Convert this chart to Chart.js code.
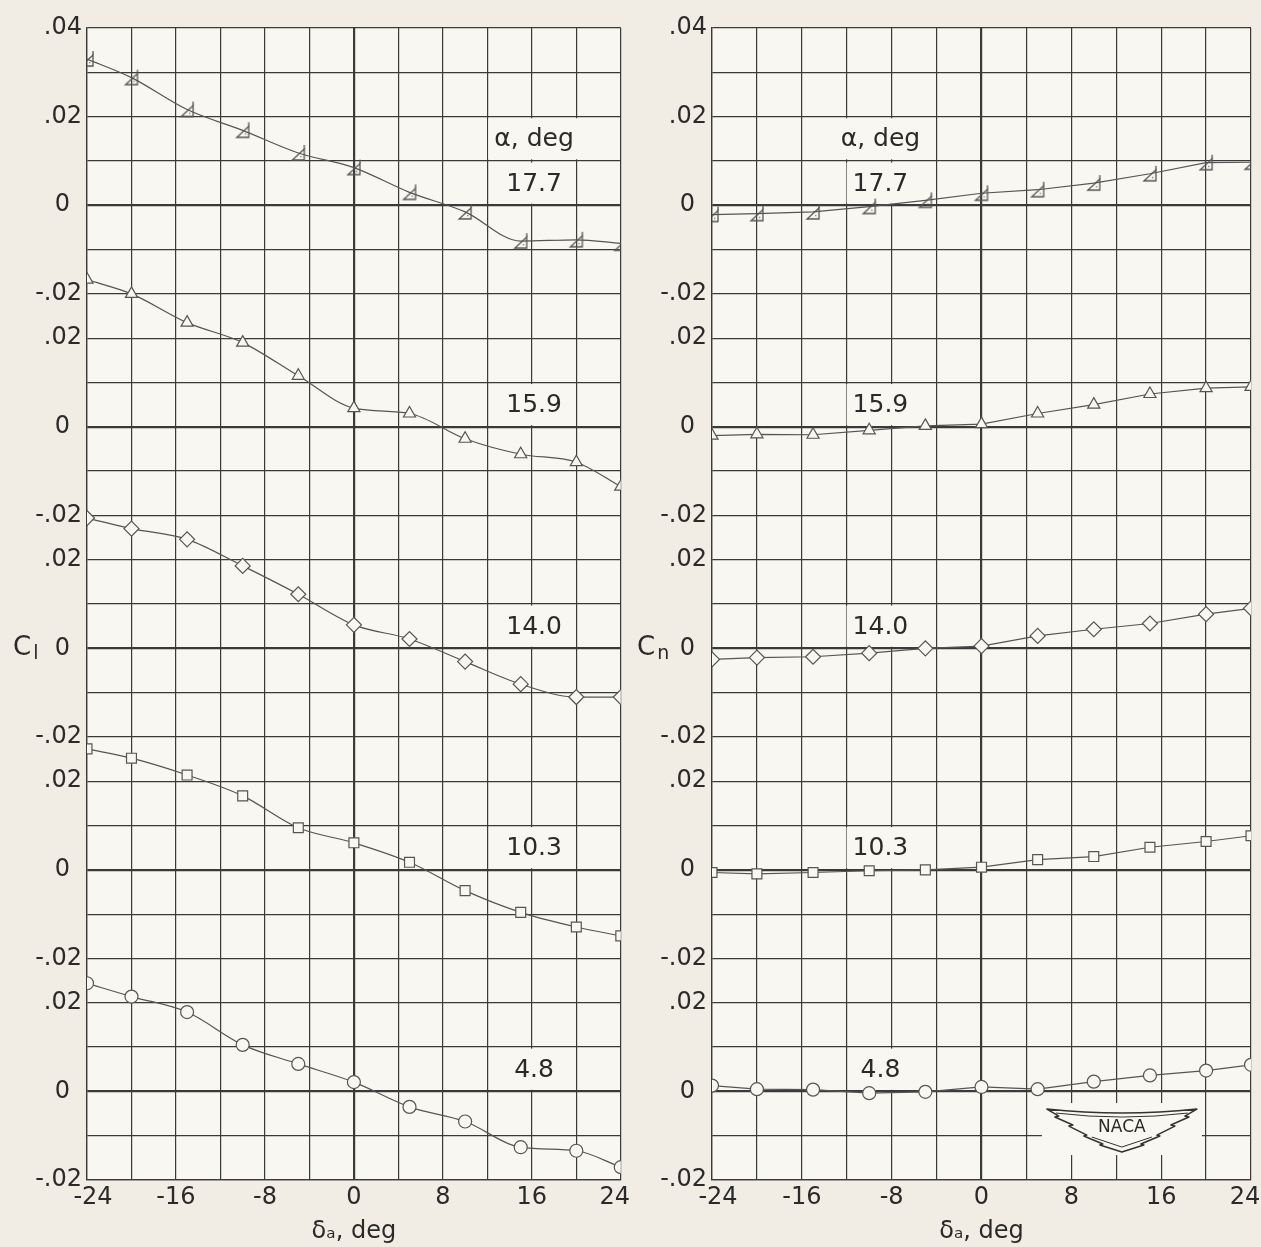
<!DOCTYPE html>
<html><head><meta charset="utf-8">
<script src="https://cdn.jsdelivr.net/npm/chart.js@4.4.1/dist/chart.umd.min.js"></script>
<style>
html,body{margin:0;padding:0;background:#f2ede4;width:1261px;height:1247px;overflow:hidden;}
canvas{position:absolute;top:0;}
#cl{left:0}
#cn{left:630px}
</style></head><body>
<canvas id="cl" width="630" height="1247"></canvas>
<canvas id="cn" width="631" height="1247"></canvas>
<script>
// ---------- data ----------
const deltaDeg = [-24, -20, -15, -10, -5, 0, 5, 10, 15, 20, 24];
const alphaLabels = ['17.7', '15.9', '14.0', '10.3', '4.8'];

const cl_17_7 = [0.0330, 0.0288, 0.0216, 0.0169, 0.0118, 0.0085, 0.0029, -0.0015, -0.0081, -0.0078, -0.0086];
const cl_15_9 = [0.0332, 0.0300, 0.0235, 0.0190, 0.0115, 0.0042, 0.0030, -0.0027, -0.0062, -0.0080, -0.0135];
const cl_14_0 = [0.0294, 0.0270, 0.0246, 0.0186, 0.0122, 0.0053, 0.0021, -0.0030, -0.0081, -0.0110, -0.0110];
const cl_10_3 = [0.0273, 0.0252, 0.0214, 0.0167, 0.0095, 0.0061, 0.0017, -0.0047, -0.0096, -0.0129, -0.0149];
const cl_4_8  = [0.0244, 0.0214, 0.0179, 0.0105, 0.0062, 0.0021, -0.0035, -0.0068, -0.0126, -0.0134, -0.0171];

const cn_17_7 = [-0.0021, -0.0019, -0.0015, -0.0003, 0.0011, 0.0027, 0.0035, 0.0050, 0.0071, 0.0096, 0.0097];
const cn_15_9 = [-0.0020, -0.0017, -0.0018, -0.0008, 0.0002, 0.0006, 0.0030, 0.0050, 0.0074, 0.0087, 0.0090];
const cn_14_0 = [-0.0025, -0.0021, -0.0019, -0.0011, 0.0000, 0.0005, 0.0028, 0.0043, 0.0056, 0.0077, 0.0090];
const cn_10_3 = [-0.0006, -0.0009, -0.0006, -0.0002, 0.0000, 0.0006, 0.0023, 0.0030, 0.0051, 0.0064, 0.0077];
const cn_4_8  = [0.0013, 0.0005, 0.0004, -0.0004, -0.0001, 0.0010, 0.0005, 0.0022, 0.0036, 0.0047, 0.0060];

// y tick labels, top to bottom, one per 0.01 grid line
const yTickLabels = ['.04','','.02','','0','','-.02',
                     '.02','','0','','-.02',
                     '.02','','0','','-.02',
                     '.02','','0','','-.02',
                     '.02','','0','','-.02'];
const xTickValues = [-24, -16, -8, 0, 8, 16, 24];

// ---------- layout / style ----------
const PANEL_STEP = 0.05;
const Y_TOP = 0.04, Y_BOTTOM = -0.22;
const FONT = '"DejaVu Sans", sans-serif';
const INK = '#2a2a2a';
const GRID = '#3a3a3a';
const LINE = '#555';
const PLOT_BG = '#f9f7f1';

function makeFlagTriangle(){
  const c = document.createElement('canvas'); c.width = 18; c.height = 22;
  const g = c.getContext('2d'); g.strokeStyle = '#555'; g.lineWidth = 1.3;
  g.beginPath(); g.moveTo(3,18); g.lineTo(15,18); g.lineTo(15,7); g.closePath(); g.stroke();
  g.beginPath(); g.moveTo(15,7); g.lineTo(15,3); g.stroke();
  g.fillStyle = '#777'; g.fillRect(11,14,1.3,1.3);
  return c;
}
const markerStyles = [makeFlagTriangle(), 'triangle', 'rectRot', 'rect', 'circle'];
const markerRadius = [8, 7, 7.5, 7, 6.5];

function buildDatasets(series, curved){
  return series.map((vals, k) => ({
    label: alphaLabels[k],
    data: deltaDeg.map((d, i) => ({x: d, y: vals[i] - PANEL_STEP * k})),
    showLine: true,
    borderColor: LINE,
    borderWidth: 1.2,
    tension: curved ? 0.4 : 0,
    cubicInterpolationMode: curved ? 'monotone' : 'default',
    pointStyle: markerStyles[k],
    pointRadius: markerRadius[k],
    pointBorderColor: '#555',
    pointBorderWidth: 1.2,
    pointBackgroundColor: PLOT_BG
  }));
}

function tickIndexFromTop(v){ return Math.round((Y_TOP - v) / 0.01); }

const deco = {
  id: 'deco',
  beforeDraw(chart){
    const {ctx, chartArea: a} = chart;
    ctx.save(); ctx.fillStyle = PLOT_BG;
    ctx.fillRect(a.left, a.top, a.right - a.left, a.bottom - a.top);
    ctx.restore();
  },
  beforeDatasetsDraw(chart, args, opts){
    const {ctx, scales: {x, y}} = chart;
    ctx.save();
    ctx.font = '25px ' + FONT; ctx.textAlign = 'center'; ctx.textBaseline = 'middle';
    const cx = x.getPixelForValue(opts.labelX);
    const boxes = [{text: 'α, deg', k: 0, hi: 0.02, lo: 0.01}]
      .concat(alphaLabels.map((t, k) => ({text: t, k, hi: 0.01, lo: 0})));
    boxes.forEach(b => {
      const top = y.getPixelForValue(b.hi - PANEL_STEP * b.k) + 1.6;
      const bot = y.getPixelForValue(b.lo - PANEL_STEP * b.k) - 1.6;
      const w = ctx.measureText(b.text).width + 12;
      ctx.fillStyle = PLOT_BG; ctx.fillRect(cx - w / 2, top, w, bot - top);
      ctx.fillStyle = INK; ctx.fillText(b.text, cx, (top + bot) / 2 + 1);
    });
    if (opts.naca){
      const nx = x.getPixelForValue(12.5);
      const ny = y.getPixelForValue(-0.0085 - 4 * PANEL_STEP);
      ctx.fillStyle = PLOT_BG;
      ctx.fillRect(nx - 80, ny - 26, 160, 52);
      ctx.strokeStyle = '#333'; ctx.lineWidth = 1.5; ctx.lineJoin = 'round';
      const half = [[75,-20],[63,-13],[67,-12],[49,-4],[53,-3],[35,6],[38,7],[19,15],[22,16],[0,23]];
      ctx.beginPath();
      ctx.moveTo(nx - 75, ny - 20);
      ctx.quadraticCurveTo(nx, ny - 12, nx + 75, ny - 20);
      half.forEach(p => ctx.lineTo(nx + p[0], ny + p[1]));
      for (let i = half.length - 2; i >= 0; i--) ctx.lineTo(nx - half[i][0], ny + half[i][1]);
      ctx.closePath(); ctx.stroke();
      ctx.lineWidth = 1;
      ctx.beginPath();
      ctx.moveTo(nx - 66, ny - 16);
      ctx.quadraticCurveTo(nx, ny - 8, nx + 66, ny - 16);
      ctx.stroke();
      ctx.beginPath();
      ctx.moveTo(nx - 30, ny + 8); ctx.lineTo(nx, ny + 18); ctx.lineTo(nx + 30, ny + 8);
      ctx.stroke();
      ctx.fillStyle = INK; ctx.font = '17px ' + FONT;
      ctx.fillText('NACA', nx, ny - 1);
    }
    ctx.restore();
  },
  afterDraw(chart, args, opts){
    const {ctx, scales: {y}} = chart;
    const yc = y.getPixelForValue(-2 * PANEL_STEP);
    ctx.save(); ctx.fillStyle = INK; ctx.textBaseline = 'middle'; ctx.textAlign = 'left';
    ctx.font = '26px ' + FONT;
    ctx.fillText('C', opts.titleX, yc);
    const w = ctx.measureText('C').width;
    ctx.font = '19px ' + FONT;
    ctx.fillText(opts.sub, opts.titleX + w + 2, yc + 6);
    ctx.restore();
  }
};

function makeChart(id, series, curved, yAxisWidth, rightPad, decoOpts){
  return new Chart(document.getElementById(id), {
    type: 'scatter',
    data: {datasets: buildDatasets(series, curved)},
    options: {
      responsive: false, animation: false, devicePixelRatio: 1,
      layout: {padding: {left: 0, right: rightPad, top: 28, bottom: 0}},
      plugins: {legend: {display: false}, tooltip: {enabled: false}, deco: decoOpts},
      scales: {
        x: {
          type: 'linear', min: -24, max: 24,
          afterBuildTicks: s => { const t = []; for (let v = -24; v <= 24; v += 4) t.push({value: v}); s.ticks = t; },
          afterFit: s => { s.height = 1247 - 1180; s.paddingLeft = 0; s.paddingRight = 0; },
          grid: {color: GRID, drawTicks: false,
                 lineWidth: c => (c.tick && c.tick.value === 0) ? 2.2 : 1.2},
          border: {display: true, color: GRID, width: 1.3},
          ticks: {
            autoSkip: false, maxRotation: 0, padding: 3, color: INK,
            font: {family: FONT, size: 24},
            callback: v => {
              if (!xTickValues.includes(v)) return '';
              if (v === -24) return '\u2002' + v;
              if (v === 24) return v + '\u2002';
              return String(v);
            }
          },
          title: {display: true, text: 'δₐ, deg', color: INK,
                  font: {family: FONT, size: 24}, padding: {top: 0, bottom: 1}}
        },
        y: {
          type: 'linear', min: Y_BOTTOM, max: Y_TOP,
          afterBuildTicks: s => {
            const t = [];
            for (let i = 0; i < yTickLabels.length; i++) t.push({value: +(Y_BOTTOM + i * 0.01).toFixed(2)});
            s.ticks = t;
          },
          afterFit: s => { s.width = yAxisWidth; s.paddingTop = 0; s.paddingBottom = 0; },
          grid: {color: GRID, drawTicks: false,
                 lineWidth: c => (c.tick && tickIndexFromTop(c.tick.value) % 5 === 4) ? 2.2 : 1.2},
          border: {display: true, color: GRID, width: 1.3},
          ticks: {
            autoSkip: false, padding: 5, color: INK,
            font: {family: FONT, size: 24},
            callback: v => {
              const lab = yTickLabels[tickIndexFromTop(v)] || '';
              return lab === '0' ? '0\u2002' : lab;
            }
          }
        }
      }
    },
    plugins: [deco]
  });
}

makeChart('cl', [cl_17_7, cl_15_9, cl_14_0, cl_10_3, cl_4_8], true, 87, 8,
          {labelX: 16.2, titleX: 13, sub: 'l', naca: false});
makeChart('cn', [cn_17_7, cn_15_9, cn_14_0, cn_10_3, cn_4_8], false, 82, 10,
          {labelX: -9, titleX: 7, sub: 'n', naca: true});
</script>
</body></html>
